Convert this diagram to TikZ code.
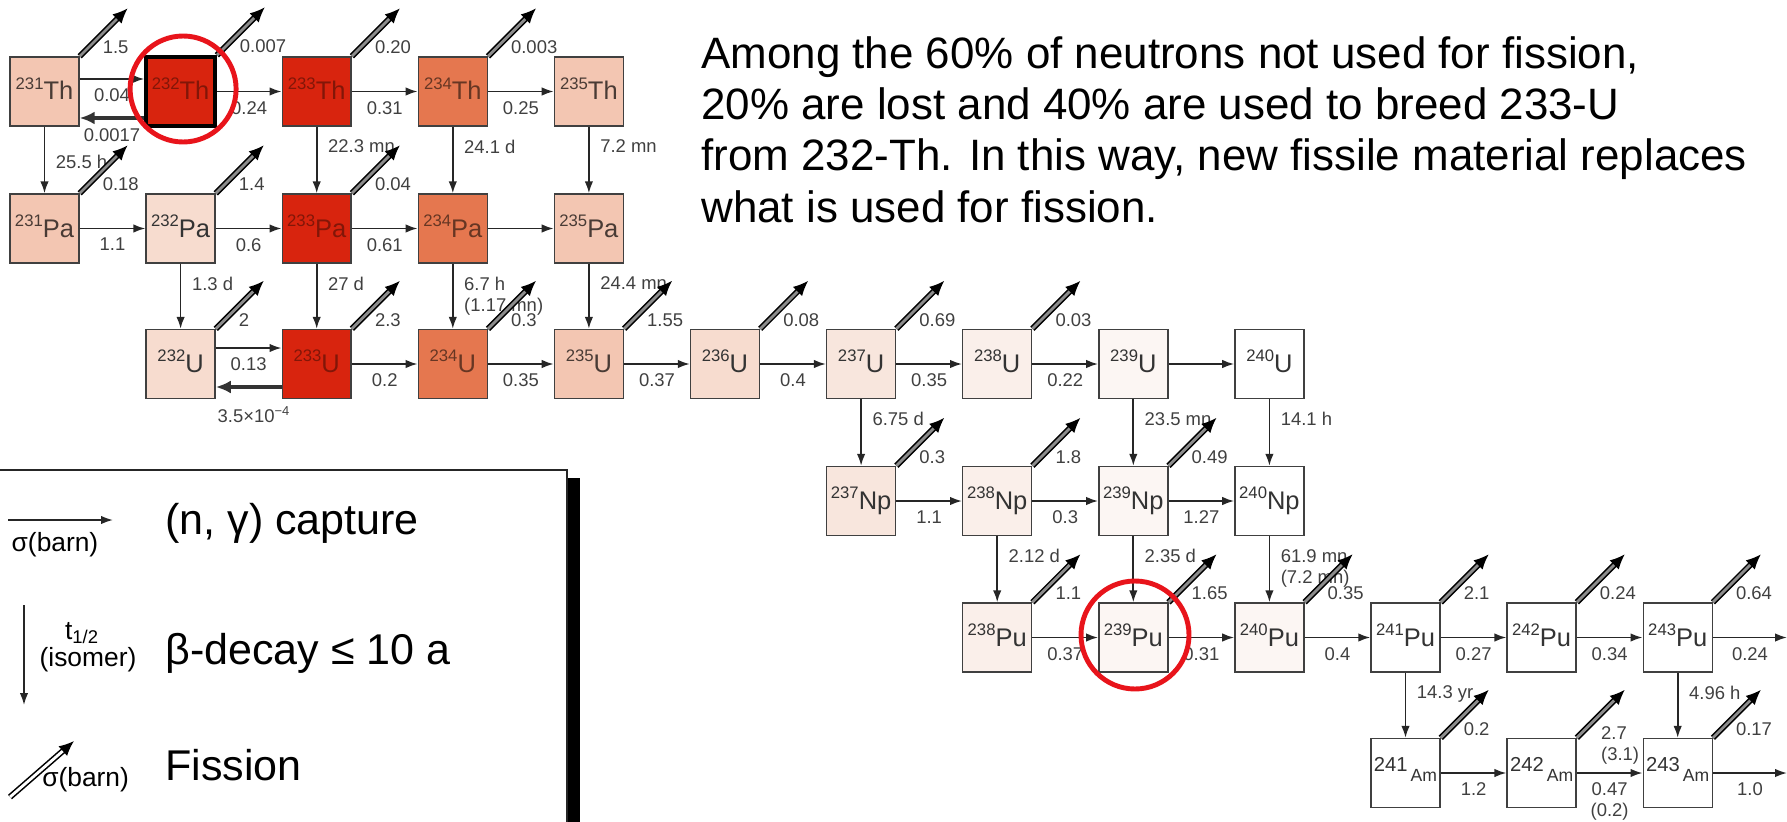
\documentclass[tikz,border=0pt]{standalone}
\usepackage{fontspec}
\setmainfont{Liberation Sans}
\usetikzlibrary{arrows.meta}

\definecolor{hot}{HTML}{D8240E}
\definecolor{warm}{HTML}{E5774F}
\definecolor{salmon}{HTML}{F3C6B2}
\definecolor{pale}{HTML}{F7DCCF}
\definecolor{paler}{HTML}{F8E6DD}
\definecolor{faint}{HTML}{FAEFEA}
\definecolor{faintest}{HTML}{FCF6F3}
\definecolor{ringred}{HTML}{E8141B}

% mass number up left, symbol on the base line
\newcommand\iso[2]{\raisebox{0.22cm}{\fontsize{9.5}{9.5}\selectfont#1}{\fontsize{14.5}{14.5}\selectfont#2}}
\newcommand\isoam[1]{\raisebox{0.2cm}{\fontsize{11.5}{11.5}\selectfont#1}\hspace{0.06cm}{\fontsize{10}{10}\selectfont Am}}

\tikzset{
  nuc/.style={draw=black!75, line width=0.8pt, fill=white, minimum size=1.38cm, inner sep=0pt,
    text height=0.34cm, text depth=0pt, text=black!80},
  hotnuc/.style={nuc, fill=hot, text=hot!60!black},
  warmnuc/.style={nuc, fill=warm, text=warm!45!black},
  salnuc/.style={nuc, fill=salmon, text=salmon!30!black},
  palenuc/.style={nuc, fill=pale},
  palernuc/.style={nuc, fill=paler},
  faintnuc/.style={nuc, fill=faint},
  faintestnuc/.style={nuc, fill=faintest},
  lab/.style={font=\fontsize{10.5}{12}\selectfont, text=black!75, inner sep=1pt},
  capt/.style={line width=1pt, black!85, -{Latex[length=0.24cm,width=0.17cm]}},
  back/.style={line width=2.2pt, black!80, -{Latex[length=0.3cm,width=0.26cm]}},
  decay/.style={line width=1pt, black!85, -{Latex[length=0.24cm,width=0.17cm]}},
  fiss/.style={line width=0.9pt, double=black!45, double distance=1.6pt},
  fisshead/.style={line width=0.9pt, -{Latex[length=0.3cm,width=0.26cm]}},
  legbig/.style={font=\fontsize{24.5}{28}\selectfont, anchor=west, inner sep=0pt},
  legsmall/.style={font=\fontsize{15}{17}\selectfont, inner sep=0pt},
  ring/.style={ringred, line width=2.8pt}
}

\begin{document}
\begin{tikzpicture}[x=0.02cm, y=-0.02cm]
  \useasboundingbox (0,0) rectangle (1787,821);

  % thorium chain
  \node[salnuc] (Th231) at (44.5,91.5) {\iso{231}{Th}};
  \node[hotnuc, draw=black, line width=2pt] (Th232) at (180.6,91.5) {\iso{232}{Th}};
  \node[hotnuc] (Th233) at (316.7,91.5) {\iso{233}{Th}};
  \node[warmnuc] (Th234) at (452.8,91.5) {\iso{234}{Th}};
  \node[salnuc] (Th235) at (588.9,91.5) {\iso{235}{Th}};
  \node[salnuc] (Pa231) at (44.5,228.5) {\iso{231}{Pa}};
  \node[palenuc] (Pa232) at (180.6,228.5) {\iso{232}{Pa}};
  \node[hotnuc] (Pa233) at (316.7,228.5) {\iso{233}{Pa}};
  \node[warmnuc] (Pa234) at (452.8,228.5) {\iso{234}{Pa}};
  \node[salnuc] (Pa235) at (588.9,228.5) {\iso{235}{Pa}};
  % uranium row
  \node[palenuc] (U232) at (180.6,364) {\iso{232}{U}};
  \node[hotnuc] (U233) at (316.7,364) {\iso{233}{U}};
  \node[warmnuc] (U234) at (452.8,364) {\iso{234}{U}};
  \node[salnuc] (U235) at (588.9,364) {\iso{235}{U}};
  \node[palenuc] (U236) at (725,364) {\iso{236}{U}};
  \node[palernuc] (U237) at (861.1,364) {\iso{237}{U}};
  \node[faintnuc] (U238) at (997.2,364) {\iso{238}{U}};
  \node[faintestnuc] (U239) at (1133.3,364) {\iso{239}{U}};
  \node[nuc] (U240) at (1269.4,364) {\iso{240}{U}};
  \node[palernuc] (Np237) at (861.1,501) {\iso{237}{Np}};
  \node[faintnuc] (Np238) at (997.2,501) {\iso{238}{Np}};
  \node[faintestnuc] (Np239) at (1133.3,501) {\iso{239}{Np}};
  \node[nuc] (Np240) at (1269.4,501) {\iso{240}{Np}};
  \node[faintnuc] (Pu238) at (997.2,637.5) {\iso{238}{Pu}};
  \node[faintestnuc] (Pu239) at (1133.3,637.5) {\iso{239}{Pu}};
  \node[faintestnuc] (Pu240) at (1269.4,637.5) {\iso{240}{Pu}};
  \node[nuc] (Pu241) at (1405.5,637.5) {\iso{241}{Pu}};
  \node[nuc] (Pu242) at (1541.6,637.5) {\iso{242}{Pu}};
  \node[nuc] (Pu243) at (1677.7,637.5) {\iso{243}{Pu}};
  \node[nuc] (Am241) at (1405.5,773) {\isoam{241}};
  \node[nuc] (Am242) at (1541.6,773) {\isoam{242}};
  \node[nuc] (Am243) at (1677.7,773) {\isoam{243}};
  \coordinate (Pu-out) at (1787,637.5);
  \coordinate (Am-out) at (1787,773);

  % (n,gamma) captures
  \foreach \a/\b/\s in {Th232/Th233/0.24, Th233/Th234/0.31, Th234/Th235/0.25,
      Pa231/Pa232/1.1, Pa232/Pa233/0.6, Pa233/Pa234/0.61, Pa234/Pa235/{},
      U233/U234/0.2, U234/U235/0.35, U235/U236/0.37, U236/U237/0.4,
      U237/U238/0.35, U238/U239/0.22, U239/U240/{},
      Np237/Np238/1.1, Np238/Np239/0.3, Np239/Np240/1.27,
      Pu238/Pu239/0.37, Pu239/Pu240/0.31, Pu240/Pu241/0.4, Pu241/Pu242/0.27,
      Pu242/Pu243/0.34, Pu243/Pu-out/0.24, Am241/Am242/1.2, Am243/Am-out/1.0}
    \draw[capt] (\a) -- (\b) node[lab, midway, below=4pt] {\s};
  \draw[capt] (Am242) -- (Am243) node[lab, midway, below=4pt, align=center] {0.47\\(0.2)};
  \draw[capt] ([yshift=0.25cm]Th231.east) -- ([yshift=0.25cm]Th232.west)
    node[lab, midway, below=4pt] {0.04};
  \draw[back] ([yshift=-0.53cm]Th232.west) -- ([yshift=-0.53cm]Th231.east)
    node[lab, midway, below=4pt] {0.0017};
  \draw[capt] ([yshift=0.32cm]U232.east) -- ([yshift=0.32cm]U233.west)
    node[lab, midway, below=4pt] {0.13};
  \draw[back] ([yshift=-0.46cm]U233.west) -- ([yshift=-0.46cm]U232.east)
    node[lab, midway, below=9pt, xshift=3pt] {3.5×10\textsuperscript{−4}};

  % beta decays
  \foreach \a/\b/\s in {Th233/Pa233/22.3 mn, Th234/Pa234/24.1 d, Th235/Pa235/7.2 mn,
      Pa232/U232/1.3 d, Pa233/U233/27 d, Pa234/U234/{6.7 h\\(1.17 mn)},
      Pa235/U235/24.4 mn, U237/Np237/6.75 d, U239/Np239/23.5 mn, U240/Np240/14.1 h,
      Np238/Pu238/2.12 d, Np239/Pu239/2.35 d, Np240/Pu240/{61.9 mn\\(7.2 mn)},
      Pu241/Am241/14.3 yr, Pu243/Am243/4.96 h}
    \draw[decay] (\a) -- (\b) node[lab, pos=0.16, anchor=north west, xshift=5pt, align=left] {\s};
  \draw[decay] (Th231) -- (Pa231) node[lab, pos=0.38, anchor=north west, xshift=5pt] {25.5 h};

  % fission
  \foreach \n/\s in {Th231/1.5, Th232/0.007, Th233/0.20, Th234/0.003,
      Pa231/0.18, Pa232/1.4, Pa233/0.04,
      U232/2, U233/2.3, U234/0.3, U235/1.55, U236/0.08, U237/0.69, U238/0.03,
      Np237/0.3, Np238/1.8, Np239/0.49,
      Pu238/1.1, Pu239/1.65, Pu240/0.35, Pu241/2.1, Pu242/0.24, Pu243/0.64,
      Am241/0.2, Am242/{}, Am243/0.17} {
    \coordinate (\n-neck) at ([shift={(40,-40)}]\n.north east);
    \coordinate (\n-tip) at ([shift={(48,-48)}]\n.north east);
    \draw[fiss] (\n.north east) -- (\n-neck);
    \draw[fisshead] (\n-neck) -- (\n-tip);
    \node[lab, anchor=west] at ([shift={(21,-9)}]\n.north east) {\s};
  }
  \node[lab, anchor=north west, align=left] at (1599,724) {2.7\\(3.1)};

  % the two fissile ones
  \draw[ring] ([shift={(2.5,-2.5)}]Th232.center) circle[radius=53];
  \draw[ring] ([shift={(1.7,-2.5)}]Pu239.center) circle[radius=54];

  \node[anchor=north west, align=left, inner sep=0pt, font=\fontsize{25}{29.2}\selectfont] (note) at (701,36)
    {Among the 60\% of neutrons not used for fission,\\
     20\% are lost and 40\% are used to breed 233-U\\
     from 232-Th. In this way, new fissile material replaces\\
     what is used for fission.};

  % legend
  \fill[black] (567,478) rectangle (580,830);
  \draw[line width=1.1pt, black!85] (-5,470) rectangle (567,830);
  \coordinate (lcap1) at (8,520);
  \coordinate (lcap2) at (113,520);
  \draw[capt] (lcap1) -- (lcap2);
  \node[legsmall] at (55,545) {σ(barn)};
  \node[legbig] at (165,523) {(n, γ) capture};
  \coordinate (ldec1) at (24,605);
  \coordinate (ldec2) at (24,705);
  \draw[decay] (ldec1) -- (ldec2);
  \node[legsmall] at (82,633) {t\textsubscript{1/2}};
  \node[legsmall] at (88,660) {(isomer)};
  \node[legbig] at (165,653) {β-decay ≤ 10 a};
  \coordinate (lfis1) at (10,797);
  \coordinate (lfis2) at (64,750);
  \coordinate (lfis3) at (74,741);
  \draw[fiss, double=white] (lfis1) -- (lfis2);
  \draw[fisshead] (lfis2) -- (lfis3);
  \node[legsmall, anchor=west] at (42,780) {σ(barn)};
  \node[legbig] at (165,765) {Fission};
\end{tikzpicture}
\end{document}
